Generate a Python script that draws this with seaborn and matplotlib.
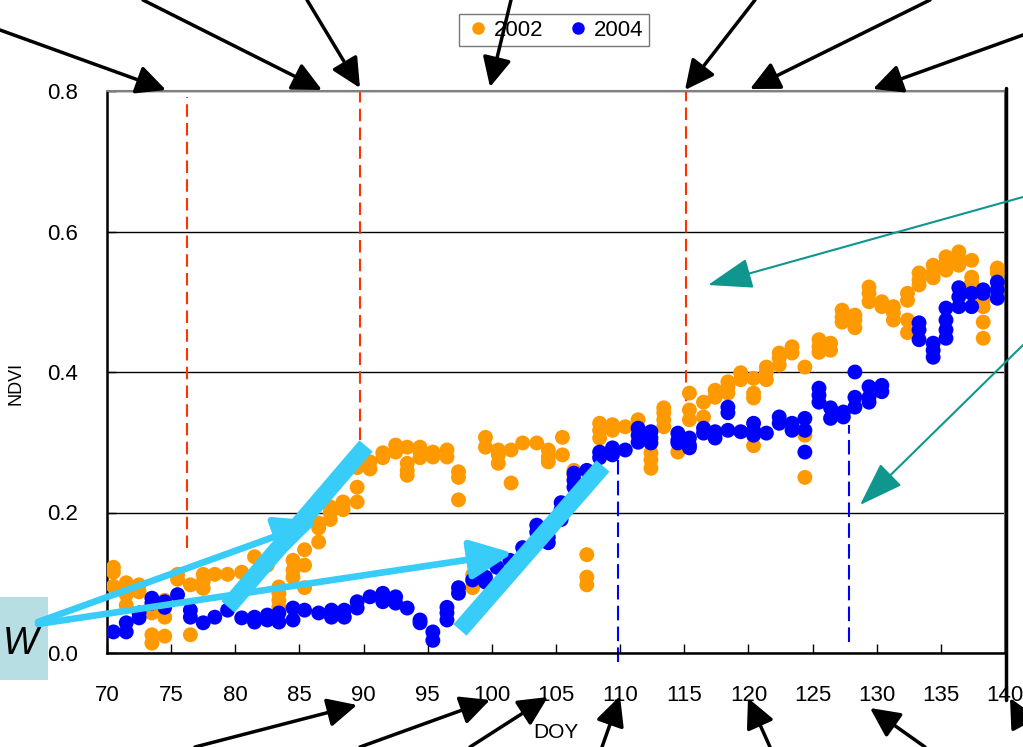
import numpy as np
import pandas as pd
import seaborn as sns
import matplotlib.pyplot as plt
from matplotlib.patches import FancyArrowPatch, Rectangle
from matplotlib.lines import Line2D

# NDVI readings per day of year (several plots per day)
doy_2002 = [70.5, 71.5, 72.5, 73.5, 74.5, 75.5, 76.5, 77.5, 78.4, 79.4, 80.5, 81.5,
            82.5, 83.4, 84.5, 85.4, 86.5, 87.4, 88.4, 89.5, 90.5, 91.5, 92.5, 93.4,
            94.4, 95.4, 96.5, 97.4, 98.5, 99.5, 100.5, 101.5, 102.4, 103.5, 104.4,
            105.5, 106.4, 107.4, 108.4, 109.4, 110.4, 111.4, 112.4, 113.4, 114.5,
            115.4, 116.5, 117.4, 118.4, 119.4, 120.4, 121.4, 122.4, 123.4, 124.4,
            125.5, 126.4, 127.3, 128.3, 129.4, 130.4, 131.3, 132.4, 133.3, 134.4,
            135.4, 136.4, 137.4, 138.3, 139.4]
ndvi_2002 = [[0.122, 0.115, 0.095], [0.100, 0.090, 0.083, 0.068], [0.097, 0.087],
             [0.057, 0.026, 0.014], [0.075, 0.051, 0.024], [0.112, 0.105], [0.097, 0.026],
             [0.112, 0.102, 0.092], [0.112], [0.112], [0.115], [0.137], [0.125],
             [0.094, 0.085, 0.075, 0.065], [0.132, 0.118, 0.108], [0.147, 0.125, 0.093],
             [0.185, 0.178, 0.158], [0.208, 0.200, 0.190], [0.215, 0.210, 0.204],
             [0.272, 0.264, 0.236, 0.215], [0.272, 0.262], [0.285, 0.278], [0.296, 0.286],
             [0.293, 0.270, 0.260, 0.253], [0.293, 0.286, 0.278], [0.286, 0.279],
             [0.289, 0.279], [0.258, 0.250, 0.218], [0.111, 0.093], [0.307, 0.293],
             [0.289, 0.282, 0.270], [0.289, 0.242], [0.299], [0.299], [0.289, 0.279, 0.272],
             [0.307, 0.282], [0.260, 0.253], [0.140, 0.108, 0.097], [0.327, 0.317, 0.306],
             [0.325, 0.317], [0.322], [0.332], [0.285, 0.275, 0.263],
             [0.349, 0.342, 0.332, 0.322], [0.286], [0.370, 0.346, 0.332], [0.357, 0.336],
             [0.374, 0.364], [0.386, 0.379, 0.370], [0.399, 0.389],
             [0.391, 0.370, 0.363, 0.295], [0.407, 0.400, 0.389], [0.427, 0.420, 0.410],
             [0.436, 0.427], [0.407, 0.310, 0.250], [0.446, 0.436, 0.428], [0.441, 0.431],
             [0.488, 0.478, 0.471], [0.481, 0.474, 0.463], [0.521, 0.512, 0.500],
             [0.500, 0.493], [0.493, 0.484, 0.474], [0.512, 0.502, 0.474, 0.456],
             [0.541, 0.531, 0.524], [0.552, 0.542, 0.534], [0.564, 0.555, 0.545],
             [0.571, 0.562, 0.552], [0.559, 0.535, 0.527], [0.502, 0.493, 0.471, 0.448],
             [0.548, 0.541]]

doy_2004 = [70.5, 71.5, 72.5, 73.5, 74.5, 75.5, 76.5, 77.5, 78.4, 79.4, 80.5, 81.5,
            82.5, 83.4, 84.5, 85.4, 86.5, 87.5, 88.5, 89.5, 90.5, 91.5, 92.5, 93.4,
            94.4, 95.4, 96.5, 97.4, 98.5, 99.5, 100.4, 101.4, 102.4, 103.5, 104.4,
            105.4, 106.4, 107.4, 108.4, 109.4, 110.4, 111.4, 112.4, 114.5, 115.4,
            116.5, 117.4, 118.4, 119.4, 120.4, 121.4, 122.4, 123.4, 124.4, 125.5,
            126.4, 127.4, 128.3, 129.4, 130.4, 133.3, 134.4, 135.4, 136.4, 137.4,
            138.3, 139.4]
ndvi_2004 = [[0.030], [0.043, 0.030], [0.057, 0.050], [0.078, 0.071], [0.073, 0.065],
             [0.083], [0.061, 0.051], [0.043], [0.051], [0.061], [0.050], [0.051, 0.044],
             [0.054, 0.047], [0.057, 0.044], [0.064, 0.047], [0.061], [0.057],
             [0.061, 0.051], [0.061, 0.051], [0.073, 0.064], [0.080], [0.085, 0.073],
             [0.080, 0.071], [0.064], [0.047, 0.043], [0.030, 0.018], [0.065, 0.057, 0.047],
             [0.093, 0.085], [0.104], [0.108, 0.101], [0.122], [0.132], [0.150],
             [0.182, 0.172], [0.165, 0.157], [0.214, 0.204, 0.190], [0.256, 0.246, 0.236],
             [0.260], [0.286, 0.278], [0.292, 0.282], [0.289], [0.320, 0.310, 0.300],
             [0.315, 0.306, 0.299], [0.313, 0.303, 0.299], [0.306, 0.296, 0.292],
             [0.320, 0.313], [0.315, 0.306], [0.350, 0.342, 0.317], [0.315],
             [0.327, 0.317, 0.310], [0.313], [0.336, 0.327], [0.327, 0.317],
             [0.334, 0.317, 0.286], [0.377, 0.367, 0.357], [0.349, 0.334], [0.343, 0.336],
             [0.400, 0.364, 0.350], [0.379, 0.364, 0.357], [0.381, 0.372],
             [0.470, 0.460, 0.446], [0.441, 0.431, 0.421], [0.491, 0.474, 0.460, 0.448],
             [0.520, 0.507, 0.493], [0.512, 0.493], [0.517, 0.512], [0.528, 0.517, 0.505]]

years = ['2002', '2004']
colors = {'2002': '#FF9900', '2004': '#0000FF'}

# dashed markers: (doy, ndvi from, ndvi to)
red_marks = [(76.2, 0.149, 0.791), (89.75, 0.303, 0.8), (115.15, 0.332, 0.8)]
blue_marks = [(109.8, -0.013, 0.275), (127.85, 0.016, 0.325)]


def to_long(doys, vals, year):
    rows = [(d, v, year) for d, vs in zip(doys, vals) for v in vs]
    return pd.DataFrame(rows, columns=['DOY', 'NDVI', 'year'])


df = pd.concat([to_long(doy_2002, ndvi_2002, '2002'),
                to_long(doy_2004, ndvi_2004, '2004')], ignore_index=True)

sns.set_style('white')
plt.rcParams['font.family'] = ['Liberation Sans', 'DejaVu Sans']
for key in ['text.color', 'axes.labelcolor', 'xtick.color', 'ytick.color']:
    plt.rcParams[key] = 'black'

W, H = 1023, 747
fig = plt.figure(figsize=(W / 100, H / 100), dpi=100)
ax = fig.add_axes([107 / W, 1 - 653 / H, 898 / W, 562 / H])

sns.scatterplot(data=df, x='DOY', y='NDVI', hue='year', palette=colors,
                s=115, linewidth=0, legend=False, ax=ax, zorder=3)

for x, y0, y1 in red_marks:
    ax.plot([x, x], [y0, y1], color='#FF3300', lw=1.5, dashes=(6, 3), zorder=2)
for x, y0, y1 in blue_marks:
    ax.plot([x, x], [y0, y1], color='#0000FF', lw=1.5, dashes=(7, 3), zorder=2,
            clip_on=False)

ax.set_xlim(70, 140)
ax.set_ylim(0, 0.8)
ax.set_xticks(np.arange(70, 141, 5))
ax.set_yticks([0, 0.2, 0.4, 0.6, 0.8])
ax.set_yticklabels([f'{v:.1f}' for v in [0, 0.2, 0.4, 0.6, 0.8]])
ax.tick_params(axis='both', direction='in', length=6.5, width=1, color='black',
               labelcolor='black', labelsize=16, pad=21)
ax.tick_params(axis='x', bottom=True, pad=23)
ax.tick_params(axis='y', left=True)
ax.yaxis.grid(True, color='black', lw=1)
ax.set_axisbelow(True)
ax.set_xlabel('DOY', fontsize=15)
ax.set_ylabel('NDVI', fontsize=13)
ax.xaxis.set_label_coords(0.5, -0.125)
ax.yaxis.set_label_coords(-0.092, 0.48)
for side in ['left', 'bottom']:
    ax.spines[side].set_color('black')
    ax.spines[side].set_linewidth(1.8)
for side in ['top', 'right']:
    ax.spines[side].set_color('#808080')
    ax.spines[side].set_linewidth(1.5)

handles = [Line2D([], [], marker='o', ls='', color=colors[y], markersize=8) for y in years]
leg = fig.legend(handles, years, loc='center', bbox_to_anchor=(554 / W, 1 - 30 / H),
                 ncol=2, fontsize=16, frameon=True, fancybox=False, edgecolor='#555555',
                 handletextpad=0.1, columnspacing=1.0, borderpad=0.25, handlelength=1.2)
leg.get_frame().set_linewidth(1)


def fp(px, py):
    return (px / W, 1 - py / H)


def arrow(p0, p1, color, lw, scale, head, z=10):
    fig.add_artist(FancyArrowPatch(fp(*p0), fp(*p1), transform=fig.transFigure,
                                   arrowstyle=head, mutation_scale=scale, lw=lw,
                                   color=color, shrinkA=0, shrinkB=0, zorder=z))


# thick black frame line on the right
fig.add_artist(Line2D([1006 / W, 1006 / W], [1 - 88 / H, 1 - 700 / H],
                      transform=fig.transFigure, color='black', lw=2.5, zorder=6))

black_head = '-|>,head_length=0.45,head_width=0.22'
black_arrows = [((0, 30), (166, 90)), ((143, 0), (322, 90)), ((307, 0), (360, 88)),
                ((511, 0), (490, 87)), ((755, 0), (685, 90)), ((930, 0), (750, 89)),
                ((1023, 35), (873, 89)),
                ((195, 747), (357, 705)), ((360, 747), (490, 700)), ((470, 747), (548, 697)),
                ((602, 747), (620, 696)), ((770, 747), (748, 698)), ((925, 747), (870, 708)),
                ((1030, 735), (1010, 698))]
for p0, p1 in black_arrows:
    arrow(p0, p1, 'black', 2.5, 40, black_head)

teal_head = '-|>,head_length=0.7,head_width=0.24'
arrow((1023, 197), (708, 285), '#0F968F', 1.5, 40, teal_head)
arrow((1023, 345), (860, 505), '#0F968F', 1.5, 40, teal_head)

# W box and cyan arrows
fig.add_artist(Rectangle(fp(0, 680), 48 / W, 83 / H, transform=fig.transFigure,
                         facecolor='#B7DEE3', edgecolor='none', zorder=9))
fig.text(3 / W, 1 - 644 / H, 'W', fontsize=27, style='italic', ha='left',
         va='center', color='black', zorder=11)

cyan = '#38CCF8'
cyan_head = '-|>,head_length=0.65,head_width=0.3'
arrow((38, 622), (318, 521), cyan, 4.8, 40, cyan_head, z=12)
arrow((38, 624), (513, 553), cyan, 4.8, 40, cyan_head, z=12)
for p0, p1 in [((228, 607), (366, 446)), ((460, 630), (603, 466))]:
    a, b = fp(*p0), fp(*p1)
    fig.add_artist(Line2D([a[0], b[0]], [a[1], b[1]], transform=fig.transFigure,
                          color=cyan, lw=12.5, solid_capstyle='butt', zorder=12))

fig.savefig('out.png', dpi=100)
